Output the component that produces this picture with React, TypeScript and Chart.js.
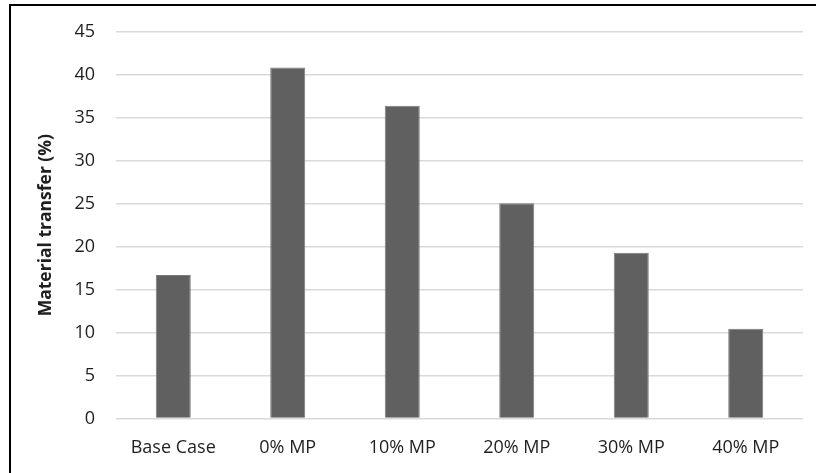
import React, { useEffect, useRef } from "react";
import { Chart, registerables } from "chart.js";

Chart.register(...registerables);

const categories = ["Base Case", "0% MP", "10% MP", "20% MP", "30% MP", "40% MP"];
const transferValues = [16.7, 40.85, 36.4, 25.05, 19.3, 10.45];
const yTicks = [0, 5, 10, 15, 20, 25, 30, 35, 40, 45];

const FONT = "'Open Sans', 'Liberation Sans', sans-serif";
const TEXT_COLOR = "#1f1f1f";

// Black frame along the top and left edges of the figure
const framePlugin = {
  id: "frame",
  afterDraw(chart: Chart) {
    const ctx = chart.ctx;
    ctx.save();
    ctx.strokeStyle = "#000";
    ctx.lineWidth = 2;
    ctx.beginPath();
    ctx.moveTo(10, 480);
    ctx.lineTo(10, 5);
    ctx.lineTo(830, 5);
    ctx.stroke();
    ctx.restore();
  },
};

export default function App() {
  const canvasRef = useRef<HTMLCanvasElement | null>(null);

  useEffect(() => {
    if (!canvasRef.current) return;
    const chart = new Chart(canvasRef.current, {
      type: "bar",
      data: {
        labels: categories,
        datasets: [
          {
            label: "Material transfer (%)",
            data: transferValues,
            backgroundColor: "#606060",
            borderColor: "#7a7a7a",
            borderWidth: 1,
            categoryPercentage: 1,
            barPercentage: 0.306,
          },
        ],
      },
      options: {
        animation: false,
        responsive: false,
        maintainAspectRatio: false,
        layout: { padding: { left: 36, right: 13, top: 30, bottom: 0 } },
        plugins: {
          legend: { display: false },
          tooltip: { enabled: false },
        },
        scales: {
          x: {
            grid: { display: false, drawTicks: false },
            border: { display: false },
            ticks: {
              color: TEXT_COLOR,
              font: { family: FONT, size: 18 },
              padding: 18.7,
              maxRotation: 0,
            },
            afterFit(scale: any) {
              scale.height = 54.5;
            },
          },
          y: {
            min: 0,
            max: 45,
            afterBuildTicks(scale: any) {
              scale.ticks = yTicks.map((v) => ({ value: v }));
            },
            grid: { color: "#d9d9d9", lineWidth: 1.5, drawTicks: false },
            border: { display: false },
            ticks: {
              color: TEXT_COLOR,
              font: { family: FONT, size: 18 },
              padding: 21,
            },
            title: {
              display: true,
              text: "Material transfer (%)",
              color: TEXT_COLOR,
              font: { family: FONT, size: 17.5, weight: "bold" },
              padding: { top: 0, bottom: 0 },
            },
            afterFit(scale: any) {
              scale.width = 80;
            },
          },
        },
      },
      plugins: [framePlugin],
    });
    return () => chart.destroy();
  }, []);

  return (
    <div style={{ position: "fixed", left: 0, top: 0, width: 816, height: 473, background: "#fff" }}>
      <canvas ref={canvasRef} width={816} height={473} style={{ display: "block" }} />
    </div>
  );
}
